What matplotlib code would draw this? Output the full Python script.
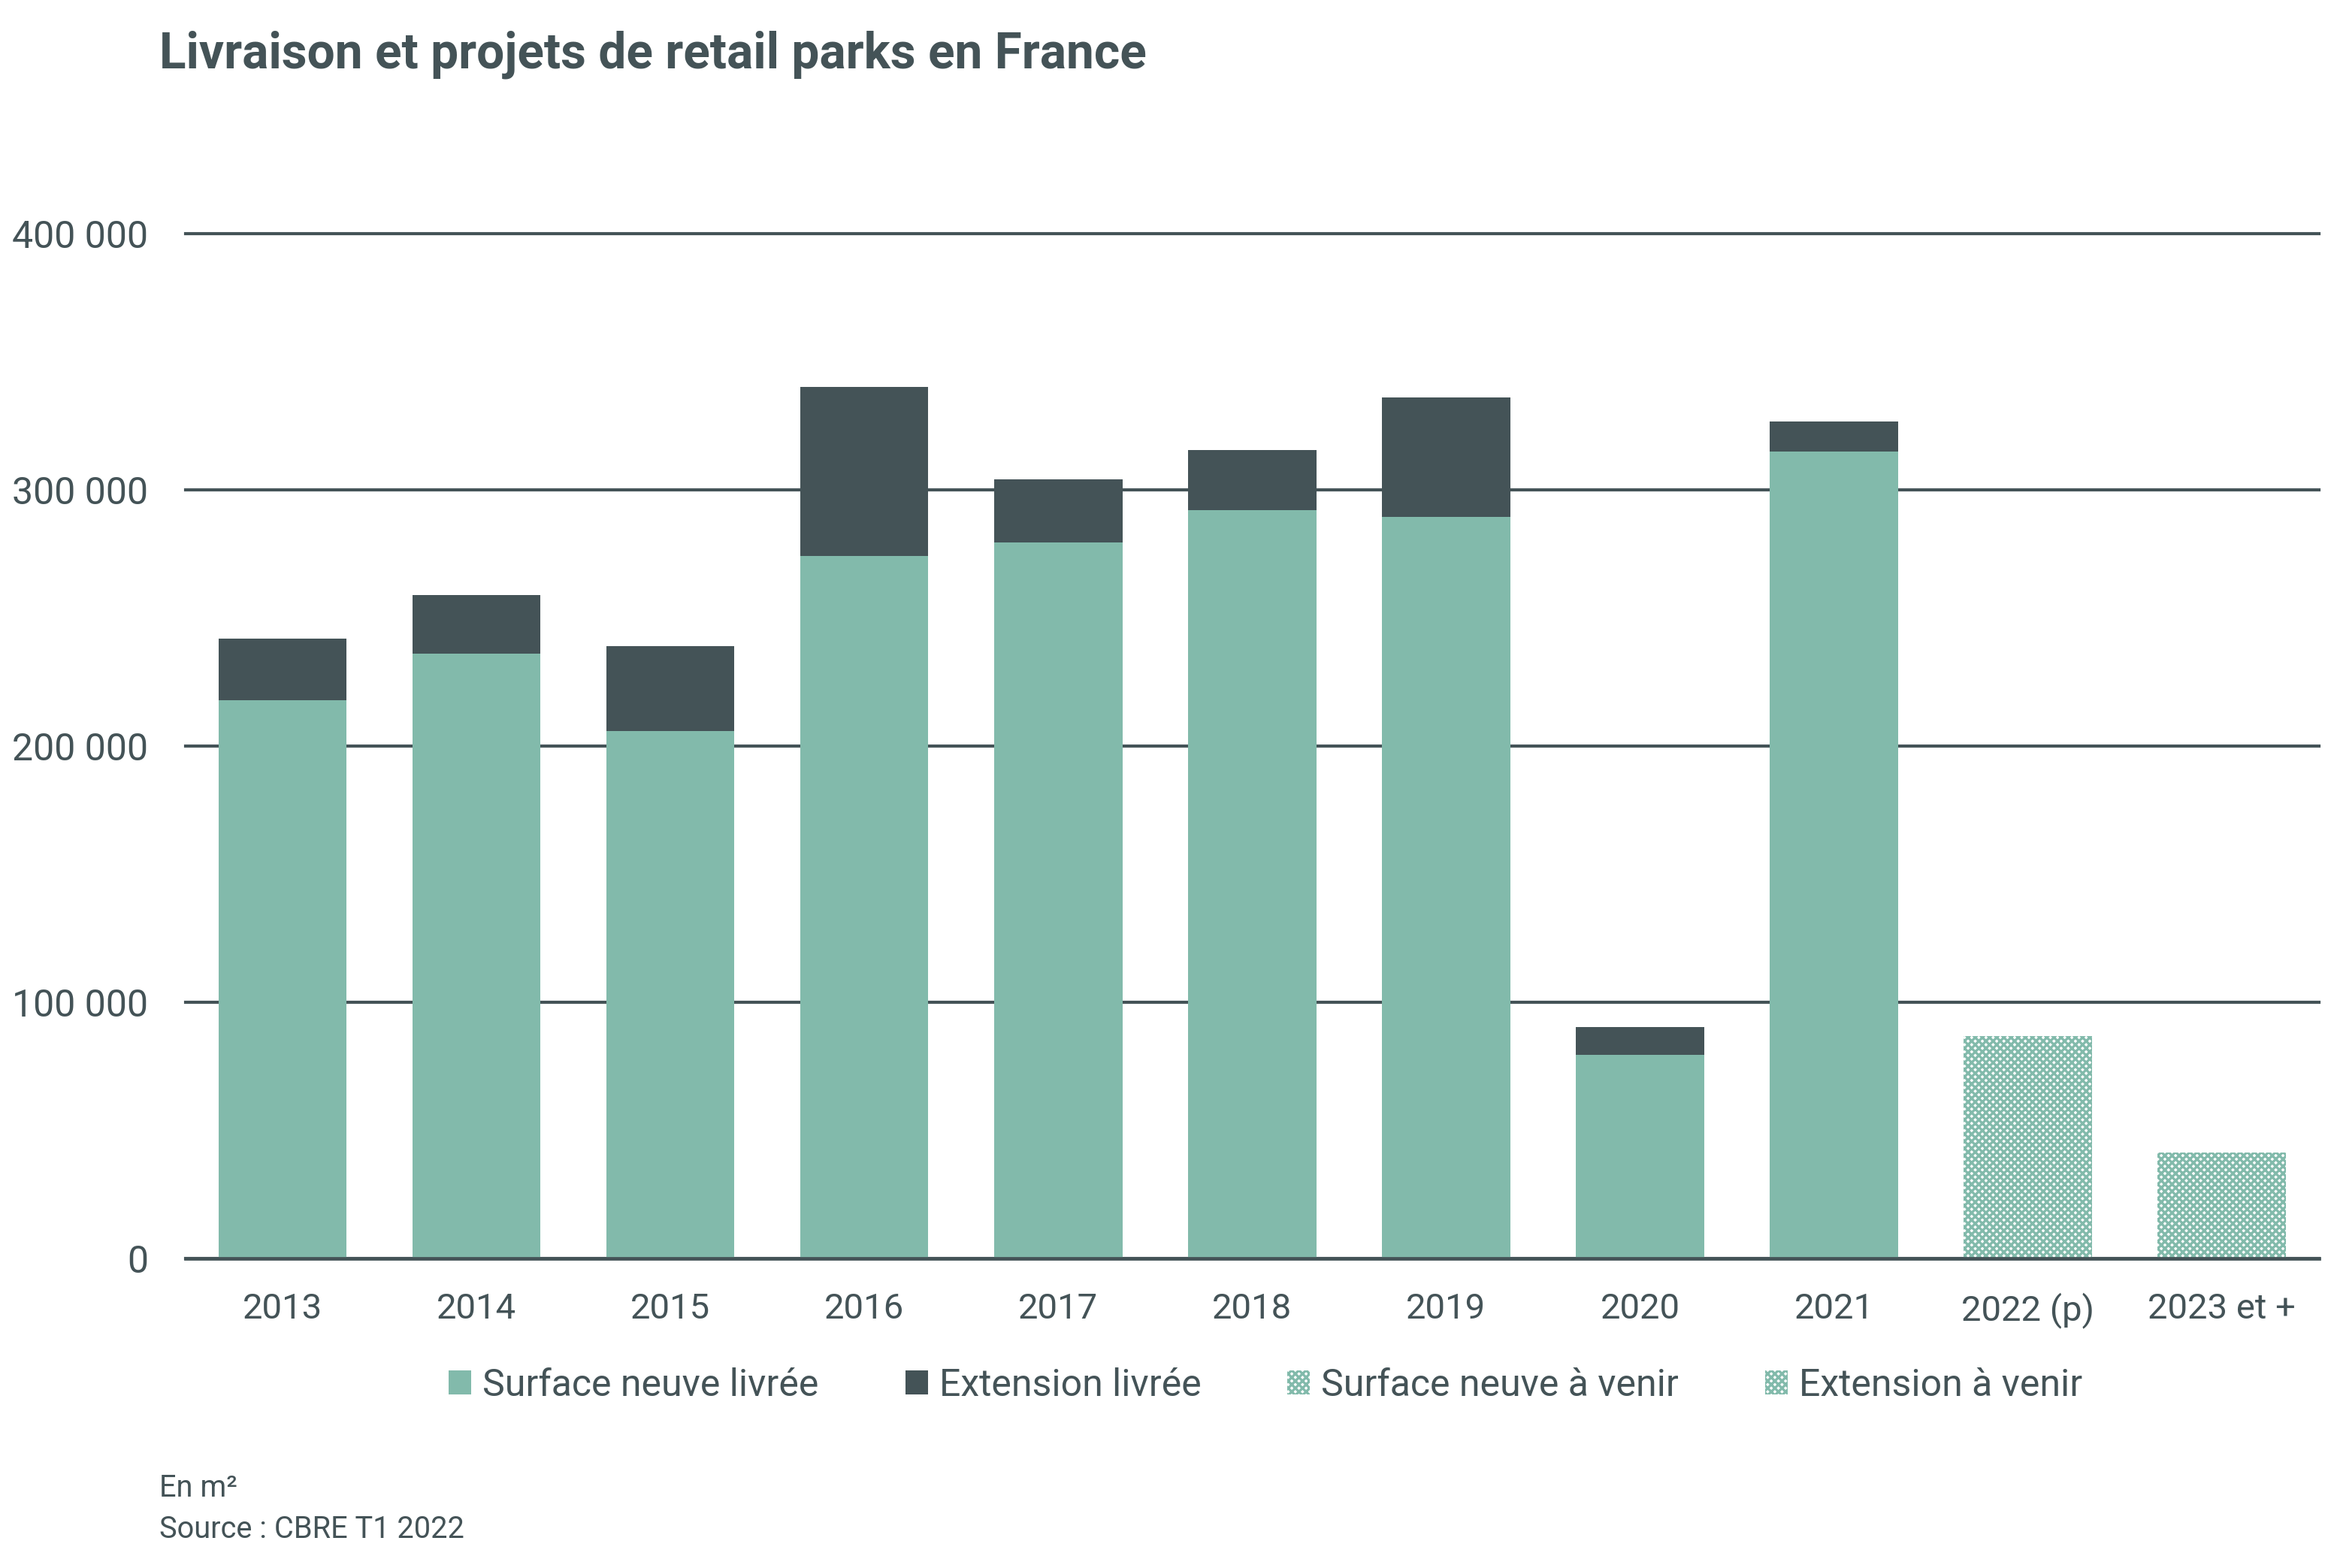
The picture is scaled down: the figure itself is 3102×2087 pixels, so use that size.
import matplotlib.pyplot as plt
import matplotlib.patches as mpatches
from matplotlib.ticker import FuncFormatter

plt.rcParams['font.family'] = ['Roboto', 'DejaVu Sans']
plt.rcParams['hatch.linewidth'] = 1.2

# Data (m²)
years = ['2013', '2014', '2015', '2016', '2017', '2018', '2019', '2020', '2021', '2022 (p)', '2023 et +']
neuve_livree = [218000, 236000, 206000, 274000, 279500, 292000, 289500, 79500, 315000, 0, 0]
ext_livree = [24000, 23000, 33000, 66000, 24500, 23500, 46500, 11000, 11500, 0, 0]
neuve_venir = [0, 0, 0, 0, 0, 0, 0, 0, 0, 86800, 41500]
ext_venir = [0, 0, 0, 0, 0, 0, 0, 0, 0, 0, 0]

green = '#82BAAB'
dark = '#445357'

fig = plt.figure(figsize=(15.51, 10.435), dpi=200)
ax = fig.add_axes([0.0797, 0.1972, 0.915, 0.654])

x = range(len(years))
w = 0.66
ax.bar(x, neuve_livree, w, color=green, linewidth=0, zorder=3)
ax.bar(x, ext_livree, w, bottom=neuve_livree, color=dark, linewidth=0, zorder=3)
ax.bar(x, neuve_venir, w, facecolor='white', edgecolor=green, hatch='xxxxxxx',
       linewidth=0, zorder=3)
ax.bar(x, ext_venir, w, bottom=neuve_venir, facecolor='white', edgecolor='#b9d8cf',
       hatch='xxxxxxx', linewidth=0, zorder=3)

ax.set_xlim(-0.5, len(years) - 0.5)
ax.set_ylim(0, 400000)
ax.set_yticks([0, 100000, 200000, 300000, 400000])
ax.yaxis.set_major_formatter(FuncFormatter(lambda v, p: '{:,.0f}'.format(v).replace(',', ' ')))
ax.set_xticks(list(x))
ax.set_xticklabels(years)
ax.grid(axis='y', color=dark, linewidth=1.5, zorder=1)
for gl in ax.get_ygridlines():
    gl.set_clip_on(False)
for s in ['top', 'right', 'left']:
    ax.spines[s].set_visible(False)
ax.spines['bottom'].set_color(dark)
ax.spines['bottom'].set_linewidth(1.7)
ax.spines['bottom'].set_zorder(4)
ax.tick_params(axis='y', length=0, pad=18, labelsize=18, labelcolor=dark)
ax.tick_params(axis='x', length=0, pad=16, labelsize=17, labelcolor=dark)

fig.text(0.0684, 0.965, 'Livraison et projets de retail parks en France', fontsize=23.7,
         fontweight='bold', color=dark, va='center')

handles = [
    mpatches.Patch(facecolor=green, linewidth=0, label='Surface neuve livrée'),
    mpatches.Patch(facecolor=dark, linewidth=0, label='Extension livrée'),
    mpatches.Patch(facecolor='white', edgecolor=green, hatch='xxxxxxx', linewidth=0,
                   label='Surface neuve à venir'),
    mpatches.Patch(facecolor='white', edgecolor=green, hatch='xxxxxxx', linewidth=0,
                   label='Extension à venir'),
]
leg = fig.legend(handles=handles, loc='center', bbox_to_anchor=(0.543, 1 - 932 / 1055),
                 ncol=4, frameon=False, fontsize=18, handlelength=0.6, handleheight=0.6,
                 handletextpad=0.3, columnspacing=2.3)
for t in leg.get_texts():
    t.set_color(dark)

fig.text(0.0684, 1 - 1001 / 1055, 'En m²', fontsize=14.3, color=dark, va='center')
fig.text(0.0684, 1 - 1029 / 1055, 'Source : CBRE T1 2022', fontsize=14.3, color=dark, va='center')

fig.savefig('out.png', dpi=200)
